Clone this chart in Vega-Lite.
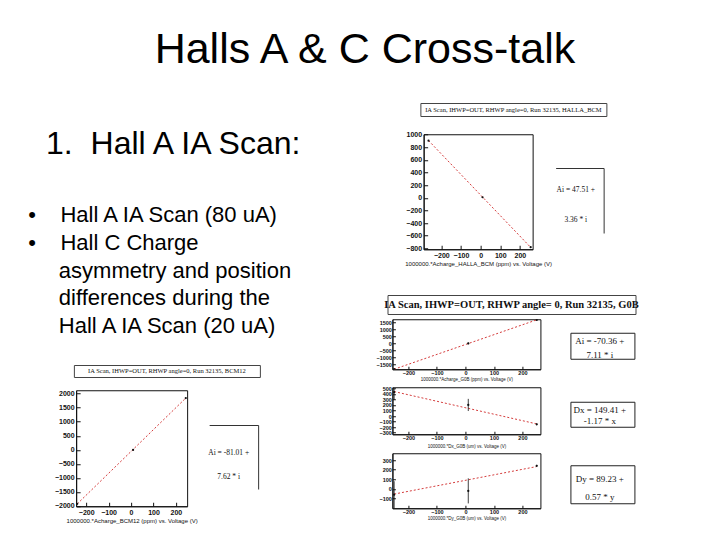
{
  "$schema": "https://vega.github.io/schema/vega-lite/v6.json",
  "background": "white",
  "padding": {"left": 28, "top": 28, "right": 5, "bottom": 0},
  "title": {"text": "Halls A & C Cross-talk", "fontSize": 43, "font": "Liberation Sans", "fontWeight": "normal", "color": "black", "anchor": "middle", "offset": 31, "dx": 31},
  "datasets": {
    "hallA": [{"v": -265, "y": 903, "fit": 905}, {"v": 10, "y": 8, "fit": 11}, {"v": 255, "y": -783, "fit": -785}],
    "hallC": [{"v": -240, "y": -1924, "fit": -1926}, {"v": 9, "y": -5, "fit": 12}, {"v": 244, "y": 1840, "fit": 1842}],
    "g0bAi": [{"v": -250, "y": -1845, "lo": -1885, "hi": -1805, "fit": -1848}, {"v": 10, "y": 8, "lo": -50, "hi": 66, "fit": 1}, {"v": 250, "y": 1705, "lo": 1665, "hi": 1745, "fit": 1707}],
    "g0bDx": [{"v": -250, "y": 430, "lo": 290, "hi": 490, "fit": 442}, {"v": 10, "y": 200, "lo": 90, "hi": 310, "fit": 138}, {"v": 250, "y": -150, "lo": -165, "hi": -135, "fit": -143}],
    "g0bDy": [{"v": -250, "y": -60, "lo": -200, "hi": 80, "fit": -53}, {"v": 10, "y": -20, "lo": -150, "hi": 110, "fit": 95}, {"v": 250, "y": 240, "lo": 230, "hi": 250, "fit": 232}],
    "statsA": [{"line": 1, "text": "Ai =  47.51 +"}, {"line": 2, "text": "3.36 * i"}],
    "statsB": [{"line": 1, "text": "Ai = -81.01 +"}, {"line": 2, "text": "7.62 * i"}],
    "statsC1": [{"line": 1, "text": "Ai =  -70.36 +"}, {"line": 2, "text": "7.11 * i"}],
    "statsC2": [{"line": 1, "text": "Dx =  149.41 +"}, {"line": 2, "text": "-1.17 * x"}],
    "statsC3": [{"line": 1, "text": "Dy =  89.23 +"}, {"line": 2, "text": "0.57 * y"}]
  },
  "hconcat": [
    {
      "vconcat": [
        {"width": 5, "height": 5, "view": {"stroke": null}, "data": {"values": []}, "mark": "point"},
        {
          "width": 268, "height": 2, "view": {"stroke": null}, "data": {"values": []}, "mark": "text",
          "title": {
            "text": "\u200b\u00a0\u00a01.\u00a0\u00a0Hall A IA Scan:",
            "subtitle": ["\u2022\u00a0\u00a0\u00a0\u00a0Hall A IA Scan (80 uA)", "\u2022\u00a0\u00a0\u00a0\u00a0Hall C Charge", "\u200b\u00a0\u00a0\u00a0\u00a0\u00a0asymmetry and position", "\u200b\u00a0\u00a0\u00a0\u00a0\u00a0differences during the", "\u200b\u00a0\u00a0\u00a0\u00a0\u00a0Hall A IA Scan (20 uA)"],
            "anchor": "start", "frame": "group", "font": "Liberation Sans", "fontSize": 32, "fontWeight": "normal", "color": "black",
            "subtitleFont": "Liberation Sans", "subtitleFontSize": 22, "subtitleColor": "black", "subtitleLineHeight": 27.75, "subtitlePadding": 44, "offset": 4
          }
        },
        {
          "vconcat": [
            {"width": 186, "height": 12, "view": {"stroke": "#444"}, "data": {"values": [{"label": "IA Scan, IHWP=OUT, RHWP angle=0, Run 32135, BCM12"}]}, "mark": {"type": "text", "font": "Liberation Serif", "fontSize": 6.5, "color": "#111"}, "encoding": {"text": {"field": "label"}}},
            {
              "hconcat": [
                {
                  "width": 111, "height": 116,
                  "data": {"name": "hallC"},
                  "encoding": {"x": {"field": "v", "type": "quantitative", "scale": {"domain": [-245, 250], "nice": false, "zero": false}, "axis": {"title": "1000000.*Acharge_BCM12 (ppm) vs. Voltage (V)", "values": [-200, -100, 0, 100, 200], "tickCount": 20, "format": "d", "labelOverlap": false, "labelFontSize": 7, "tickSize": -4, "labelPadding": 6, "titleFontSize": 6, "titlePadding": 2}}},
                  "layer": [
                    {"mark": {"type": "line", "color": "#d43c3c", "strokeDash": [2, 2], "strokeWidth": 1, "clip": true},
                     "encoding": {"y": {"field": "fit", "type": "quantitative", "scale": {"domain": [-2010, 2120], "nice": false, "zero": false}, "axis": {"title": null, "values": [-2000, -1500, -1000, -500, 0, 500, 1000, 1500, 2000], "tickCount": 20, "format": "d", "labelOverlap": false, "labelFontSize": 7, "tickSize": -4, "labelPadding": 6, "minExtent": 20, "maxExtent": 20}}}},
                    {"mark": {"type": "point", "filled": true, "size": 5, "color": "#111", "opacity": 1, "clip": true},
                     "encoding": {"y": {"field": "y", "type": "quantitative", "axis": {"title": null}}}}
                  ]
                },
                {
                  "width": 49, "height": 64, "view": {"stroke": null},
                  "data": {"name": "statsB"},
                  "mark": {"type": "text", "font": "Liberation Serif", "fontSize": 7.5, "color": "#111", "baseline": "middle"},
                  "encoding": {
                    "x": {"datum": 0.4, "type": "quantitative", "scale": {"domain": [0, 1], "nice": false, "zero": false}, "axis": {"orient": "top", "labels": false, "ticks": false, "title": null, "domainColor": "#333"}},
                    "y": {"field": "line", "type": "quantitative", "scale": {"domain": [-0.189, 2.514], "reverse": true, "nice": false, "zero": false}, "axis": {"orient": "right", "labels": false, "ticks": false, "title": null, "domainColor": "#333", "minExtent": 0}},
                    "text": {"field": "text"}
                  }
                }
              ],
              "spacing": 10, "center": true
            }
          ],
          "spacing": 11, "center": true
        }
      ],
      "spacing": 20, "center": true
    },
    {
      "vconcat": [
        {
          "vconcat": [
            {"width": 186, "height": 13, "view": {"stroke": "#444"}, "data": {"values": [{"label": "IA Scan, IHWP=OUT, RHWP angle=0, Run 32135, HALLA_BCM"}]}, "mark": {"type": "text", "font": "Liberation Serif", "fontSize": 6.5, "color": "#111"}, "encoding": {"text": {"field": "label"}}},
            {
              "hconcat": [
                {
                  "width": 109, "height": 115,
                  "data": {"name": "hallA"},
                  "encoding": {"x": {"field": "v", "type": "quantitative", "scale": {"domain": [-290, 265], "nice": false, "zero": false}, "axis": {"title": "1000000.*Acharge_HALLA_BCM (ppm) vs. Voltage (V)", "values": [-200, -100, 0, 100, 200], "tickCount": 20, "format": "d", "labelOverlap": false, "labelFontSize": 7, "tickSize": -4, "labelPadding": 6, "titleFontSize": 6, "titlePadding": 2}}},
                  "layer": [
                    {"mark": {"type": "line", "color": "#d43c3c", "strokeDash": [2, 2], "strokeWidth": 1, "clip": true},
                     "encoding": {"y": {"field": "fit", "type": "quantitative", "scale": {"domain": [-815, 1005], "nice": false, "zero": false}, "axis": {"title": null, "values": [-800, -600, -400, -200, 0, 200, 400, 600, 800, 1000], "tickCount": 20, "format": "d", "labelOverlap": false, "labelFontSize": 7, "tickSize": -4, "labelPadding": 6, "minExtent": 20, "maxExtent": 20}}}},
                    {"mark": {"type": "point", "filled": true, "size": 5, "color": "#111", "opacity": 1, "clip": true},
                     "encoding": {"y": {"field": "y", "type": "quantitative", "axis": {"title": null}}}}
                  ]
                },
                {
                  "width": 48, "height": 65, "view": {"stroke": null},
                  "data": {"name": "statsA"},
                  "mark": {"type": "text", "font": "Liberation Serif", "fontSize": 7.5, "color": "#111", "baseline": "middle"},
                  "encoding": {
                    "x": {"datum": 0.42, "type": "quantitative", "scale": {"domain": [0, 1], "nice": false, "zero": false}, "axis": {"orient": "top", "labels": false, "ticks": false, "title": null, "domainColor": "#333"}},
                    "y": {"field": "line", "type": "quantitative", "scale": {"domain": [0.268, 2.433], "reverse": true, "nice": false, "zero": false}, "axis": {"orient": "right", "labels": false, "ticks": false, "title": null, "domainColor": "#333", "minExtent": 0}},
                    "text": {"field": "text"}
                  }
                }
              ],
              "spacing": 2, "center": true
            }
          ],
          "spacing": 13, "center": true
        },
        {
          "vconcat": [
            {"width": 248, "height": 19, "view": {"stroke": "#444"}, "data": {"values": [{"label": "IA Scan, IHWP=OUT, RHWP angle= 0, Run 32135, G0B"}]}, "mark": {"type": "text", "font": "Liberation Serif", "fontSize": 10.5, "fontWeight": "bold", "color": "#111"}, "encoding": {"text": {"field": "label"}}},
            {
              "hconcat": [
                {
                  "width": 148, "height": 50,
                  "data": {"name": "g0bAi"},
                  "encoding": {"x": {"field": "v", "type": "quantitative", "scale": {"domain": [-256, 263], "nice": false, "zero": false}, "axis": {"title": "1000000.*Acharge_G0B (ppm) vs. Voltage (V)", "values": [-200, -100, 0, 100, 200], "tickCount": 20, "format": "d", "labelOverlap": false, "labelFontSize": 5.5, "tickSize": -3, "labelPadding": 4, "titleFontSize": 4.5, "titlePadding": 1}}},
                  "layer": [
                    {"mark": {"type": "line", "color": "#d43c3c", "strokeDash": [2, 2], "strokeWidth": 1, "clip": true},
                     "encoding": {"y": {"field": "fit", "type": "quantitative", "scale": {"domain": [-1850, 1750], "nice": false, "zero": false}, "axis": {"title": null, "values": [-1500, -1000, -500, 0, 500, 1000, 1500], "tickCount": 20, "format": "d", "labelOverlap": false, "labelFontSize": 5.5, "tickSize": -3, "labelPadding": 4, "minExtent": 22, "maxExtent": 22}}}},
                    {"mark": {"type": "rule", "color": "#111", "strokeWidth": 0.8, "clip": true},
                     "encoding": {"y": {"field": "lo", "type": "quantitative", "axis": {"title": null}}, "y2": {"field": "hi"}}},
                    {"mark": {"type": "point", "filled": true, "size": 5, "color": "#111", "opacity": 1, "clip": true},
                     "encoding": {"y": {"field": "y", "type": "quantitative", "axis": {"title": null}}}}
                  ]
                },
                {
                  "width": 64, "height": 26, "view": {"stroke": "#222"},
                  "data": {"name": "statsC1"},
                  "mark": {"type": "text", "font": "Liberation Serif", "fontSize": 9, "color": "#111", "baseline": "middle"},
                  "encoding": {
                    "x": {"datum": 0.46, "type": "quantitative", "scale": {"domain": [0, 1], "nice": false, "zero": false}, "axis": {"orient": "bottom", "domain": false, "labels": false, "ticks": true, "tickSize": 9, "tickOpacity": 0, "values": [0.5], "title": null}},
                    "y": {"field": "line", "type": "quantitative", "scale": {"domain": [0.426, 2.278], "reverse": true, "nice": false, "zero": false}, "axis": null},
                    "text": {"field": "text"}
                  }
                }
              ],
              "spacing": 28, "center": true
            },
            {
              "hconcat": [
                {
                  "width": 148, "height": 47,
                  "data": {"name": "g0bDx"},
                  "encoding": {"x": {"field": "v", "type": "quantitative", "scale": {"domain": [-256, 263], "nice": false, "zero": false}, "axis": {"title": "1000000.*Dx_G0B (um) vs. Voltage (V)", "values": [-200, -100, 0, 100, 200], "tickCount": 20, "format": "d", "labelOverlap": false, "labelFontSize": 5.5, "tickSize": -3, "labelPadding": 4, "titleFontSize": 4.5, "titlePadding": 3}}},
                  "layer": [
                    {"mark": {"type": "line", "color": "#d43c3c", "strokeDash": [2, 2], "strokeWidth": 1, "clip": true},
                     "encoding": {"y": {"field": "fit", "type": "quantitative", "scale": {"domain": [-330, 520], "nice": false, "zero": false}, "axis": {"title": null, "values": [-300, -200, -100, 0, 100, 200, 300, 400, 500], "tickCount": 20, "format": "d", "labelOverlap": false, "labelFontSize": 5.5, "tickSize": -3, "labelPadding": 4, "minExtent": 22, "maxExtent": 22}}}},
                    {"mark": {"type": "rule", "color": "#111", "strokeWidth": 0.8, "clip": true},
                     "encoding": {"y": {"field": "lo", "type": "quantitative", "axis": {"title": null}}, "y2": {"field": "hi"}}},
                    {"mark": {"type": "point", "filled": true, "size": 5, "color": "#111", "opacity": 1, "clip": true},
                     "encoding": {"y": {"field": "y", "type": "quantitative", "axis": {"title": null}}}}
                  ]
                },
                {
                  "width": 64, "height": 25, "view": {"stroke": "#222"},
                  "data": {"name": "statsC2"},
                  "mark": {"type": "text", "font": "Liberation Serif", "fontSize": 9, "color": "#111", "baseline": "middle"},
                  "encoding": {
                    "x": {"datum": 0.46, "type": "quantitative", "scale": {"domain": [0, 1], "nice": false, "zero": false}, "axis": {"orient": "bottom", "domain": false, "labels": false, "ticks": true, "tickSize": 7, "tickOpacity": 0, "values": [0.5], "title": null}},
                    "y": {"field": "line", "type": "quantitative", "scale": {"domain": [0.295, 2.568], "reverse": true, "nice": false, "zero": false}, "axis": null},
                    "text": {"field": "text"}
                  }
                }
              ],
              "spacing": 28, "center": true
            },
            {
              "hconcat": [
                {
                  "width": 148, "height": 55,
                  "data": {"name": "g0bDy"},
                  "encoding": {"x": {"field": "v", "type": "quantitative", "scale": {"domain": [-256, 263], "nice": false, "zero": false}, "axis": {"title": "1000000.*Dy_G0B (um) vs. Voltage (V)", "values": [-200, -100, 0, 100, 200], "tickCount": 20, "format": "d", "labelOverlap": false, "labelFontSize": 5.5, "tickSize": -3, "labelPadding": 4, "titleFontSize": 4.5, "titlePadding": 1}}},
                  "layer": [
                    {"mark": {"type": "line", "color": "#d43c3c", "strokeDash": [2, 2], "strokeWidth": 1, "clip": true},
                     "encoding": {"y": {"field": "fit", "type": "quantitative", "scale": {"domain": [-200, 370], "nice": false, "zero": false}, "axis": {"title": null, "values": [-100, 0, 100, 200, 300], "tickCount": 20, "format": "d", "labelOverlap": false, "labelFontSize": 5.5, "tickSize": -3, "labelPadding": 4, "minExtent": 22, "maxExtent": 22}}}},
                    {"mark": {"type": "rule", "color": "#111", "strokeWidth": 0.8, "clip": true},
                     "encoding": {"y": {"field": "lo", "type": "quantitative", "axis": {"title": null}}, "y2": {"field": "hi"}}},
                    {"mark": {"type": "point", "filled": true, "size": 5, "color": "#111", "opacity": 1, "clip": true},
                     "encoding": {"y": {"field": "y", "type": "quantitative", "axis": {"title": null}}}}
                  ]
                },
                {
                  "width": 64, "height": 38, "view": {"stroke": "#222"},
                  "data": {"name": "statsC3"},
                  "mark": {"type": "text", "font": "Liberation Serif", "fontSize": 9, "color": "#111", "baseline": "middle"},
                  "encoding": {
                    "x": {"datum": 0.46, "type": "quantitative", "scale": {"domain": [0, 1], "nice": false, "zero": false}, "axis": {"orient": "bottom", "domain": false, "labels": false, "ticks": true, "tickSize": 5, "tickOpacity": 0, "values": [0.5], "title": null}},
                    "y": {"field": "line", "type": "quantitative", "scale": {"domain": [0.213, 2.34], "reverse": true, "nice": false, "zero": false}, "axis": null},
                    "text": {"field": "text"}
                  }
                }
              ],
              "spacing": 28, "center": true
            }
          ],
          "spacing": 3, "center": true
        }
      ],
      "spacing": 27, "center": true
    }
  ],
  "spacing": 63,
  "config": {
    "font": "Liberation Sans",
    "view": {"stroke": "#111", "strokeWidth": 1},
    "axis": {"labelFont": "Liberation Sans", "labelFontWeight": "bold", "labelColor": "#111", "labelFlush": false, "labelOverlap": false, "labelBound": false, "tickColor": "#111", "domainColor": "#111", "titleFont": "Liberation Sans", "titleFontWeight": "normal", "titleColor": "#111", "grid": false}
  }
}
